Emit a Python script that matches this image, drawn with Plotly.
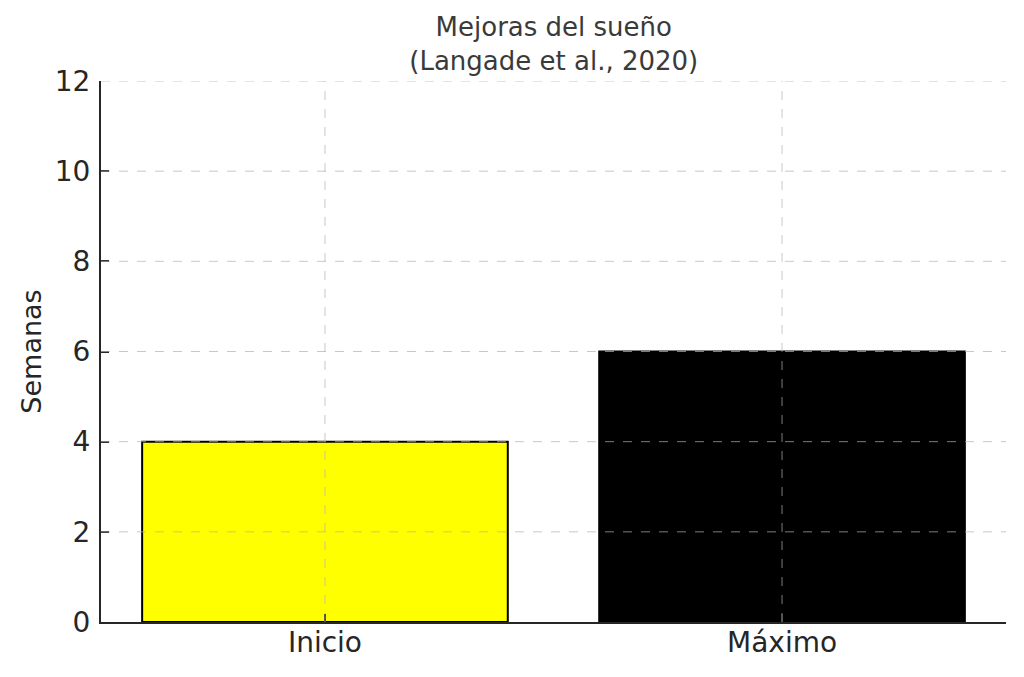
import plotly.graph_objects as go

# data
categorias = ["Inicio", "Máximo"]
semanas = [4, 6]
colores = ["#ffff00", "#000000"]
yticks = [0, 2, 4, 6, 8, 10, 12]

titulo = "Mejoras del sueño<br>(Langade et al., 2020)"
ylabel = "Semanas"

fig = go.Figure()
fig.add_trace(go.Bar(
    x=categorias,
    y=semanas,
    width=0.8,
    marker=dict(color=colores, line=dict(color="black", width=2)),
    showlegend=False,
))

# matplotlib style dashed grid drawn above the bars
grid_style = dict(color="rgba(176,176,176,0.7)", width=1, dash="dash")
for v in yticks[1:]:
    fig.add_shape(type="line", xref="paper", yref="y", x0=0, x1=1, y0=v, y1=v,
                  line=grid_style, layer="above")
for c in categorias:
    fig.add_shape(type="line", xref="x", yref="paper", x0=c, x1=c, y0=0, y1=1,
                  line=grid_style, layer="above")

# page body adds an 8px offset, margins account for it
fig.update_layout(
    width=1024, height=677,
    paper_bgcolor="white", plot_bgcolor="white",
    margin=dict(l=93, r=26, t=73, b=63),
    font=dict(family="DejaVu Sans", color="#262626"),
    title=dict(text=titulo, x=0.533, xanchor="center",
               yref="container", y=0.958, yanchor="middle",
               font=dict(size=26, color="#3a3a3a")),
)
fig.update_xaxes(
    range=[-0.49, 1.49], showgrid=False, automargin=False,
    showline=True, linecolor="#262626", linewidth=2,
    ticks="inside", ticklen=8, tickwidth=1.5, tickcolor="#262626",
    tickfont=dict(size=28), ticklabelstandoff=-6,
)
fig.update_yaxes(
    range=[0, 12], tickvals=yticks, showgrid=False, zeroline=False, automargin=False,
    showline=True, linecolor="#262626", linewidth=2,
    ticks="inside", ticklen=8, tickwidth=1.5, tickcolor="#262626",
    tickfont=dict(size=28), ticklabelstandoff=3,
    title=dict(text=ylabel, font=dict(size=27), standoff=5),
)

fig.write_html("out.html")
